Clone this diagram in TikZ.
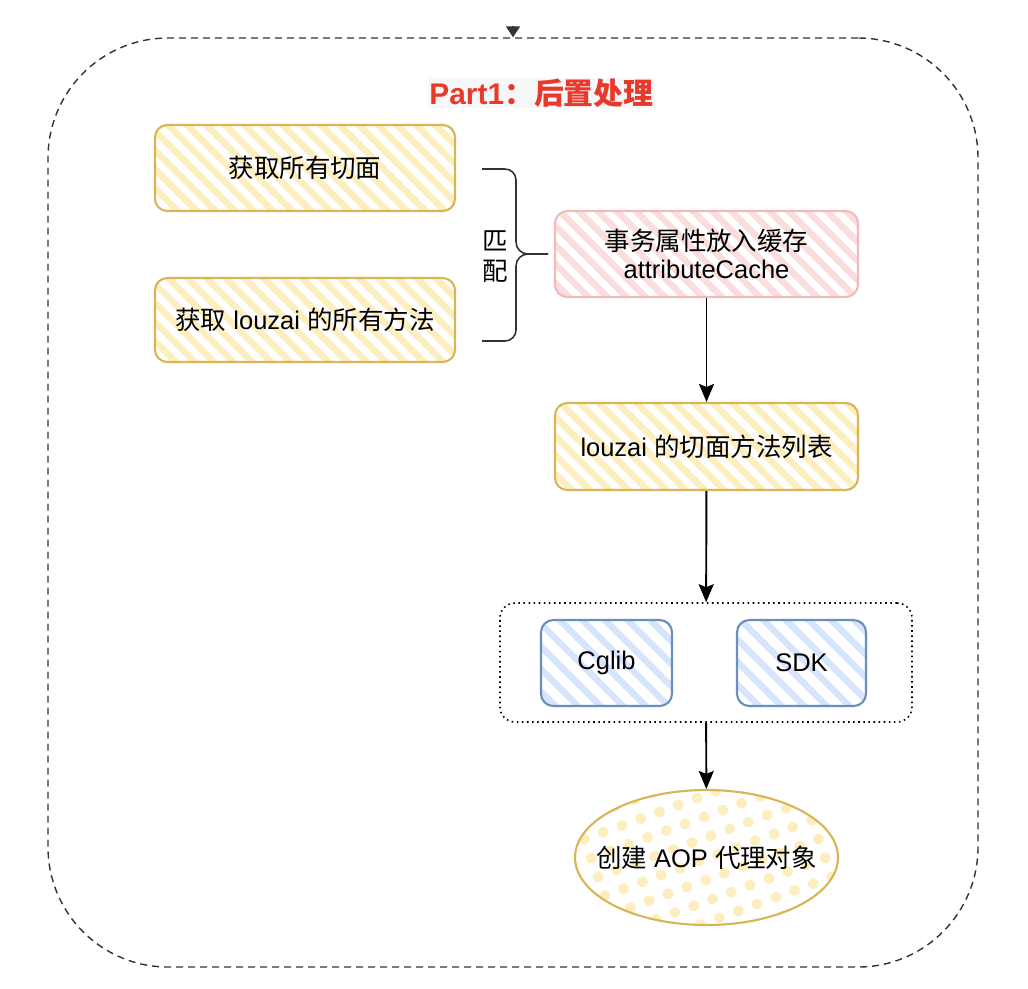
\documentclass[tikz,border=0pt]{standalone}
\usepackage{fontspec}
\setmainfont{Liberation Sans}
\newfontfamily\cjkfont{Noto Sans CJK SC}
\newcommand{\zh}[1]{{\cjkfont #1}}
\usepackage{tikz}
\usetikzlibrary{positioning, arrows.meta, shapes.geometric, patterns.meta}

\definecolor{yelline}{HTML}{D6B656}
\definecolor{yelfill}{RGB}{252,238,190}
\definecolor{pinkline}{RGB}{243,186,186}
\definecolor{pinkfill}{RGB}{249,222,220}
\definecolor{blueline}{HTML}{6C8EBF}
\definecolor{bluefill}{RGB}{214,229,251}
\definecolor{titlered}{RGB}{233,57,43}
\definecolor{titlebg}{RGB}{246,247,249}
\definecolor{darkline}{RGB}{51,51,51}

\tikzset{
    box/.style={draw, line width=1.2pt, rounded corners=7pt, minimum width=6cm, minimum height=1.72cm,
        font=\fontsize{14.5}{15.5}\selectfont, align=center, text=black},
    yelbox/.style={box, draw=yelline, pattern={Lines[angle=-45,distance=0.27cm,line width=0.13cm]}, pattern color=yelfill},
    pinkbox/.style={box, draw=pinkline, pattern={Lines[angle=-45,distance=0.27cm,line width=0.13cm]}, pattern color=pinkfill},
    bluebox/.style={box, draw=blueline, minimum width=2.6cm, pattern={Lines[angle=-45,distance=0.32cm,line width=0.13cm]}, pattern color=bluefill},
    flow/.style={draw=black, line width=1.1pt, -{Stealth[length=0.36cm,width=0.3cm,inset=0.06cm]}}
}

\begin{document}
\begin{tikzpicture}

    %Canvas
    \fill[white] (0,0) rectangle (20.56,-19.76);
    \useasboundingbox (0,0) rectangle (20.56,-19.76);

    %Part1 frame and title
    \node[draw=darkline, line width=0.8pt, dash pattern=on 0.14cm off 0.1cm, rounded corners=2.4cm,
        minimum width=18.6cm, minimum height=18.58cm] (part1) at (10.26,-10.05) {};
    \coordinate (entry) at (10.26,-0.52);
    \draw[flow, draw=darkline, -{Triangle[length=0.22cm,width=0.28cm]}] (entry) -- (part1.north);
    \node[fill=titlebg, minimum width=4.54cm, minimum height=0.6cm, inner sep=0pt, text=titlered,
        font=\fontsize{17}{18}\selectfont\bfseries] (title) at (10.83,-1.86) {Part1\zh{：后置处理}};

    %Left boxes
    \node[yelbox] (aspects) at (6.1,-3.36) {\zh{获取所有切面}};
    \node[yelbox, minimum height=1.68cm] (methods) at (6.1,-6.4) {\zh{获取} louzai \zh{的所有方法}};

    %Brace and label
    \draw[darkline, line width=0.9pt] (9.64,-3.38) -- (10.1,-3.38) arc[start angle=90, end angle=0, radius=0.22cm]
        -- (10.32,-4.84) arc[start angle=180, end angle=270, radius=0.24cm] -- (10.96,-5.08);
    \draw[darkline, line width=0.9pt] (10.96,-5.08) -- (10.56,-5.08) arc[start angle=90, end angle=180, radius=0.24cm]
        -- (10.32,-6.6) arc[start angle=0, end angle=-90, radius=0.22cm] -- (9.64,-6.82);
    \node[font=\fontsize{14.5}{17}\selectfont\cjkfont, align=center, inner sep=1pt] (match) at (9.9,-5.14) {匹\\配};

    %Right column
    \node[pinkbox, minimum width=6.06cm] (cache) at (14.13,-5.08) {\zh{事务属性放入缓存}\\attributeCache};
    \node[yelbox, minimum width=6.06cm, minimum height=1.74cm] (list) at (14.13,-8.93) {louzai \zh{的切面方法列表}};

    %Proxy implementations
    \node[draw=black, line width=0.9pt, dotted, rounded corners=0.3cm, minimum width=8.24cm, minimum height=2.38cm] (impl) at (14.12,-13.25) {};
    \node[bluebox, minimum width=2.62cm] (cglib) at (12.13,-13.26) {Cglib};
    \node[bluebox, minimum width=2.58cm] (sdk) at (16.03,-13.26) {SDK};

    %Proxy object
    \node[ellipse, draw=yelline, line width=1.2pt, minimum width=5.26cm, minimum height=2.7cm, inner sep=0pt,
        pattern={Dots[distance=0.4cm,radius=0.11cm,angle=20]}, pattern color=yelfill,
        font=\fontsize{14.5}{15.5}\selectfont] (proxy) at (14.13,-17.15) {\makebox[0pt]{\zh{创建} AOP \zh{代理对象}}};

    %Arrows
    \foreach \from/\to in {cache/list, list/impl, impl/proxy}
    \draw[flow] (\from) -- (\to);

\end{tikzpicture}
\end{document}
